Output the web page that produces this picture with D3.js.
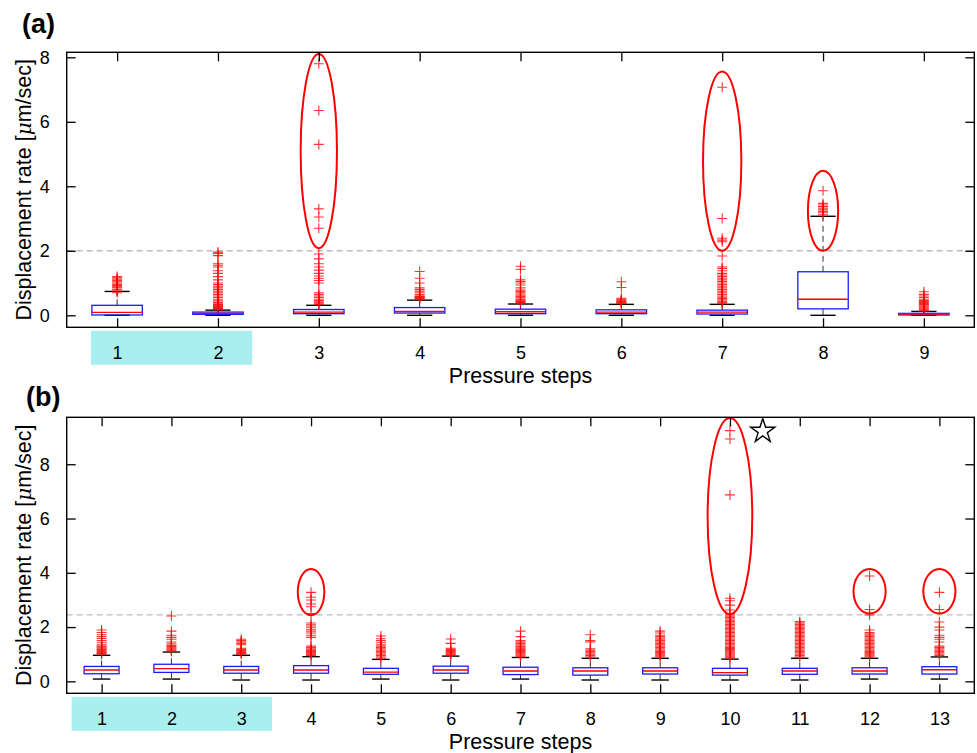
<!DOCTYPE html>
<html>
<head>
<meta charset="utf-8">
<script src="https://cdn.jsdelivr.net/npm/d3@7"></script>
<style>
  html, body { margin: 0; padding: 0; background: #fff; }
  svg { display: block; }
  text { font-family: "Liberation Sans", Arial, Helvetica, sans-serif; fill: #000; }
</style>
</head>
<body>
<svg id="chart" width="977" height="753"></svg>
<script>
// ---------------- DATA ----------------
// Panel (a)
const stepsA = [1, 2, 3, 4, 5, 6, 7, 8, 9];
const loA  = [0, 0, 0, 0, 0, 0, 0, 0, 0];
const q1A  = [0.01, 0.03, 0.05, 0.07, 0.05, 0.05, 0.04, 0.20, 0.01];
const medA = [0.09, 0.06, 0.10, 0.12, 0.11, 0.10, 0.10, 0.50, 0.04];
const q3A  = [0.31, 0.10, 0.18, 0.24, 0.19, 0.17, 0.16, 1.35, 0.06];
const hiA  = [0.74, 0.16, 0.31, 0.47, 0.35, 0.34, 0.34, 3.07, 0.12];
const outA = [
  [0.70, 0.75, 0.80, 0.85, 0.88, 0.92, 0.96, 1.00, 1.04, 1.08, 1.12, 1.16, 1.20],
  [0.17, 0.19, 0.21, 0.23, 0.25, 0.27, 0.29, 0.31, 0.33, 0.35, 0.38, 0.41, 0.45, 0.50, 0.55, 0.60, 0.65, 0.70, 0.75, 0.80, 0.85, 0.90, 0.95, 1.00, 1.10, 1.20, 1.30, 1.38, 1.50, 1.55, 1.60, 1.85, 1.92, 1.96],
  [0.33, 0.36, 0.39, 0.42, 0.46, 0.50, 0.55, 0.60, 0.65, 0.70, 1.00, 1.08, 1.15, 1.22, 1.30, 1.40, 1.50, 1.60, 1.75, 1.90, 2.70, 3.05, 3.30, 5.30, 6.35, 7.80],
  [0.50, 0.52, 0.54, 0.56, 0.58, 0.60, 0.64, 0.70, 0.75, 0.80, 0.85, 1.00, 1.15, 1.36],
  [0.38, 0.40, 0.42, 0.44, 0.47, 0.50, 0.54, 0.58, 0.62, 0.66, 0.70, 0.74, 0.78, 0.85, 0.94, 1.00, 1.05, 1.10, 1.43, 1.52],
  [0.36, 0.38, 0.40, 0.42, 0.44, 0.47, 0.50, 0.53, 0.86, 1.04],
  [0.36, 0.40, 0.44, 0.48, 0.52, 0.56, 0.60, 0.65, 0.70, 0.75, 0.80, 0.85, 0.90, 0.95, 1.00, 1.05, 1.10, 1.15, 1.20, 1.25, 1.30, 1.38, 1.45, 1.50, 1.84, 2.28, 2.33, 2.39, 3.00, 7.07],
  [3.12, 3.18, 3.22, 3.27, 3.32, 3.37, 3.42, 3.47, 3.86],
  [0.13, 0.16, 0.19, 0.22, 0.25, 0.28, 0.31, 0.34, 0.37, 0.40, 0.43, 0.46, 0.50, 0.55, 0.60, 0.65, 0.73]
];
const ellStepA = [3, 7, 8];
const ellLoA   = [2.08, 2.00, 2.00];
const ellHiA   = [8.10, 7.56, 4.48];
const ellHwA   = [0.18, 0.19, 0.15];
const thresholdA = 2.0;
const bandA = [0.74, 2.34];
const yTicksA = [0, 2, 4, 6, 8];

// Panel (b)
const stepsB = [1, 2, 3, 4, 5, 6, 7, 8, 9, 10, 11, 12, 13];
const loB  = [0.085, 0.085, 0.05, 0.05, 0.085, 0.05, 0.085, 0.05, 0.05, 0.05, 0.05, 0.085, 0.085];
const q1B  = [0.28, 0.33, 0.30, 0.30, 0.26, 0.30, 0.25, 0.23, 0.27, 0.23, 0.26, 0.27, 0.27];
const medB = [0.42, 0.47, 0.42, 0.42, 0.34, 0.42, 0.38, 0.38, 0.38, 0.32, 0.38, 0.38, 0.43];
const q3B  = [0.55, 0.63, 0.55, 0.58, 0.48, 0.56, 0.52, 0.50, 0.50, 0.48, 0.48, 0.50, 0.54];
const hiB  = [0.96, 1.08, 0.96, 0.91, 0.81, 0.93, 0.88, 0.85, 0.85, 0.82, 0.85, 0.85, 0.90];
const outB = [
  [1.00, 1.03, 1.06, 1.10, 1.14, 1.18, 1.22, 1.26, 1.30, 1.35, 1.42, 1.50, 1.58, 1.65, 1.72, 1.80, 1.89],
  [1.10, 1.13, 1.16, 1.20, 1.24, 1.28, 1.32, 1.38, 1.45, 1.55, 1.62, 1.70, 1.85, 2.41],
  [1.00, 1.03, 1.06, 1.10, 1.14, 1.18, 1.22, 1.35, 1.40, 1.45, 1.50, 1.55],
  [0.95, 0.98, 1.01, 1.04, 1.07, 1.10, 1.13, 1.16, 1.20, 1.25, 1.30, 1.62, 1.70, 1.78, 1.85, 1.92, 2.00, 2.08, 2.15, 2.50, 2.75, 2.85, 3.00, 3.10, 3.28],
  [0.85, 0.90, 0.95, 1.00, 1.05, 1.10, 1.15, 1.20, 1.25, 1.30, 1.35, 1.42, 1.50, 1.57, 1.67],
  [0.95, 0.98, 1.01, 1.04, 1.07, 1.10, 1.14, 1.18, 1.22, 1.40, 1.56],
  [0.90, 0.94, 0.98, 1.02, 1.06, 1.10, 1.14, 1.18, 1.22, 1.26, 1.30, 1.35, 1.40, 1.45, 1.50, 1.65, 1.85],
  [0.90, 0.95, 1.00, 1.05, 1.10, 1.15, 1.20, 1.45, 1.50, 1.72],
  [0.90, 0.94, 0.98, 1.02, 1.06, 1.10, 1.15, 1.20, 1.25, 1.30, 1.35, 1.40, 1.45, 1.50, 1.55, 1.60, 1.65, 1.70, 1.78, 1.85],
  [0.85, 0.89, 0.93, 0.97, 1.01, 1.05, 1.09, 1.13, 1.17, 1.21, 1.25, 1.30, 1.35, 1.40, 1.45, 1.50, 1.55, 1.60, 1.65, 1.70, 1.75, 1.80, 1.85, 1.90, 1.95, 2.00, 2.05, 2.10, 2.15, 2.20, 2.25, 2.30, 2.35, 2.40, 2.45, 2.50, 2.63, 2.81, 2.97, 3.06, 6.87, 8.93, 9.24],
  [0.90, 0.95, 1.00, 1.05, 1.10, 1.15, 1.20, 1.25, 1.30, 1.35, 1.40, 1.45, 1.50, 1.55, 1.60, 1.65, 1.70, 1.75, 1.80, 1.85, 1.90, 1.95, 2.00, 2.05, 2.10, 2.15, 2.20],
  [0.90, 0.94, 0.98, 1.02, 1.06, 1.10, 1.15, 1.20, 1.25, 1.30, 1.35, 1.40, 1.45, 1.50, 1.55, 1.60, 1.65, 1.70, 1.75, 1.80, 1.89, 2.45, 2.65, 3.88],
  [0.95, 1.00, 1.05, 1.10, 1.15, 1.20, 1.25, 1.30, 1.45, 1.55, 1.62, 1.70, 1.89, 2.00, 2.19, 2.65, 3.28]
];
const ellStepB = [4, 10, 12, 13];
const ellLoB   = [2.44, 2.47, 2.50, 2.50];
const ellHiB   = [4.14, 9.70, 4.14, 4.14];
const ellHwB   = [0.19, 0.32, 0.23, 0.23];
const thresholdB = 2.45;
const bandB = [0.57, 3.44];
const yTicksB = [0, 2, 4, 6, 8];
const starB = [10.47, 9.22];

// ---------------- DRAW ----------------
const svg = d3.select("#chart");

function drawPanel(cfg) {
  const x = d3.scaleLinear().domain(cfg.xDomain).range([cfg.left, cfg.right]);
  const y = d3.scaleLinear().domain(cfg.yDomain).range([cfg.bottom, cfg.top]);
  const g = svg.append("g");
  const boxW = 0.5, capW = 0.25, tickLen = 9;

  // cyan band behind first tick labels
  g.append("rect")
    .attr("x", x(cfg.band[0])).attr("width", x(cfg.band[1]) - x(cfg.band[0]))
    .attr("y", cfg.bottom + 3.5).attr("height", 34)
    .attr("fill", "#a9efef");

  // threshold dashed line
  g.append("line")
    .attr("x1", cfg.left).attr("x2", cfg.right)
    .attr("y1", y(cfg.threshold)).attr("y2", y(cfg.threshold))
    .attr("stroke", "#bdbdbd").attr("stroke-width", 1.4).attr("stroke-dasharray", "6,4");

  const rows = cfg.steps.map((s, i) => ({
    s, lo: cfg.lo[i], q1: cfg.q1[i], med: cfg.med[i], q3: cfg.q3[i], hi: cfg.hi[i], out: cfg.out[i]
  }));

  // whiskers (dashed)
  g.selectAll(".wu").data(rows).enter().append("line")
    .attr("x1", d => x(d.s)).attr("x2", d => x(d.s))
    .attr("y1", d => y(d.q3)).attr("y2", d => y(d.hi))
    .attr("stroke", "#333").attr("stroke-width", 1).attr("stroke-dasharray", "6,4");
  g.selectAll(".wl").data(rows).enter().append("line")
    .attr("x1", d => x(d.s)).attr("x2", d => x(d.s))
    .attr("y1", d => y(d.q1)).attr("y2", d => y(d.lo))
    .attr("stroke", "#333").attr("stroke-width", 1).attr("stroke-dasharray", "6,4");
  // caps
  ["hi", "lo"].forEach(k => {
    g.selectAll(".cap" + k).data(rows).enter().append("line")
      .attr("x1", d => x(d.s - capW / 2)).attr("x2", d => x(d.s + capW / 2))
      .attr("y1", d => y(d[k])).attr("y2", d => y(d[k]))
      .attr("stroke", "#000").attr("stroke-width", 1.4);
  });

  // outliers
  const pts = [];
  rows.forEach(d => d.out.forEach(v => pts.push({ s: d.s, v })));
  g.selectAll(".out").data(pts).enter().append("path")
    .attr("d", "M-5,0H5M0,-5V5")
    .attr("transform", d => `translate(${x(d.s)},${y(d.v)})`)
    .attr("stroke", "#ff0000").attr("stroke-width", 1.1).attr("fill", "none")
    .attr("opacity", 0.8);

  // boxes
  g.selectAll(".box").data(rows).enter().append("rect")
    .attr("x", d => x(d.s - boxW / 2)).attr("width", d => x(d.s + boxW / 2) - x(d.s - boxW / 2))
    .attr("y", d => y(d.q3)).attr("height", d => Math.max(1, y(d.q1) - y(d.q3)))
    .attr("fill", "none").attr("stroke", "#1a1aff").attr("stroke-width", 1.3);
  g.selectAll(".med").data(rows).enter().append("line")
    .attr("x1", d => x(d.s - boxW / 2)).attr("x2", d => x(d.s + boxW / 2))
    .attr("y1", d => y(d.med)).attr("y2", d => y(d.med))
    .attr("stroke", "#ff0000").attr("stroke-width", 1.4);

  // ellipses
  const ells = cfg.ellStep.map((s, i) => ({ s, lo: cfg.ellLo[i], hi: cfg.ellHi[i], hw: cfg.ellHw[i] }));
  g.selectAll(".ell").data(ells).enter().append("ellipse")
    .attr("cx", d => x(d.s))
    .attr("cy", d => y((d.lo + d.hi) / 2))
    .attr("rx", d => x(d.s + d.hw) - x(d.s))
    .attr("ry", d => (y(d.lo) - y(d.hi)) / 2)
    .attr("fill", "none").attr("stroke", "#ff0000").attr("stroke-width", 2);

  // frame
  g.append("rect")
    .attr("x", cfg.left).attr("y", cfg.top)
    .attr("width", cfg.right - cfg.left).attr("height", cfg.bottom - cfg.top)
    .attr("fill", "none").attr("stroke", "#000").attr("stroke-width", 1.4);

  // axes with inward ticks
  const axB = d3.axisBottom(x).tickValues(cfg.steps).tickSize(-tickLen).tickPadding(10 + tickLen).tickFormat(d3.format("d"));
  const axT = d3.axisTop(x).tickValues(cfg.steps).tickSize(-tickLen).tickFormat("");
  const axL = d3.axisLeft(y).tickValues(cfg.yTicks).tickSize(-tickLen).tickPadding(8 + tickLen).tickFormat(d3.format("d"));
  const axR = d3.axisRight(y).tickValues(cfg.yTicks).tickSize(-tickLen).tickFormat("");
  const style = sel => {
    sel.select(".domain").remove();
    sel.selectAll(".tick line").attr("stroke", "#000").attr("stroke-width", 1.3);
    sel.selectAll(".tick text").attr("font-size", 18).attr("fill", "#111")
      .style("font-family", '"Liberation Sans", Arial, sans-serif');
  };
  g.append("g").attr("transform", `translate(0,${cfg.bottom})`).call(axB).call(style);
  g.append("g").attr("transform", `translate(0,${cfg.top})`).call(axT).call(style);
  g.append("g").attr("transform", `translate(${cfg.left},0)`).call(axL).call(style);
  g.append("g").attr("transform", `translate(${cfg.right},0)`).call(axR).call(style);

  // x label
  g.append("text")
    .attr("x", (cfg.left + cfg.right) / 2).attr("y", cfg.xLabelY)
    .attr("text-anchor", "middle").attr("font-size", 21.5)
    .text("Pressure steps");

  // y label
  const yl = g.append("text")
    .attr("transform", `translate(31,${(cfg.top + cfg.bottom) / 2}) rotate(-90)`)
    .attr("text-anchor", "middle").attr("font-size", 21.5);
  yl.append("tspan").text("Displacement rate [");
  yl.append("tspan").attr("font-style", "italic").style("font-family", '"DejaVu Serif", "Liberation Serif", serif').attr("font-size", 20).text("\u03bc");
  yl.append("tspan").text("m/sec]");

  // panel letter
  g.append("text")
    .attr("x", cfg.letterX).attr("y", cfg.letterY)
    .attr("font-size", 27).attr("font-weight", "bold")
    .text(cfg.letter);

  if (cfg.star) {
    g.append("path")
      .attr("d", d3.symbol().type(d3.symbolStar).size(180)())
      .attr("transform", `translate(${x(cfg.star[0])},${y(cfg.star[1])})`)
      .attr("fill", "none").attr("stroke", "#000").attr("stroke-width", 1.4);
  }
}

drawPanel({
  steps: stepsA, lo: loA, q1: q1A, med: medA, q3: q3A, hi: hiA, out: outA,
  ellStep: ellStepA, ellLo: ellLoA, ellHi: ellHiA, ellHw: ellHwA,
  threshold: thresholdA, band: bandA, yTicks: yTicksA,
  xDomain: [0.5, 9.5], yDomain: [-0.372, 8.155],
  left: 66.7, right: 974.3, top: 52.3, bottom: 327.3,
  xLabelY: 383, letter: "(a)", letterX: 22, letterY: 33
});

drawPanel({
  steps: stepsB, lo: loB, q1: q1B, med: medB, q3: q3B, hi: hiB, out: outB,
  ellStep: ellStepB, ellLo: ellLoB, ellHi: ellHiB, ellHw: ellHwB,
  threshold: thresholdB, band: bandB, yTicks: yTicksB, star: starB,
  xDomain: [0.5, 13.5], yDomain: [-0.44, 9.73],
  left: 66.7, right: 974.3, top: 417.3, bottom: 693.3,
  xLabelY: 749, letter: "(b)", letterX: 26, letterY: 406
});
</script>
</body>
</html>
